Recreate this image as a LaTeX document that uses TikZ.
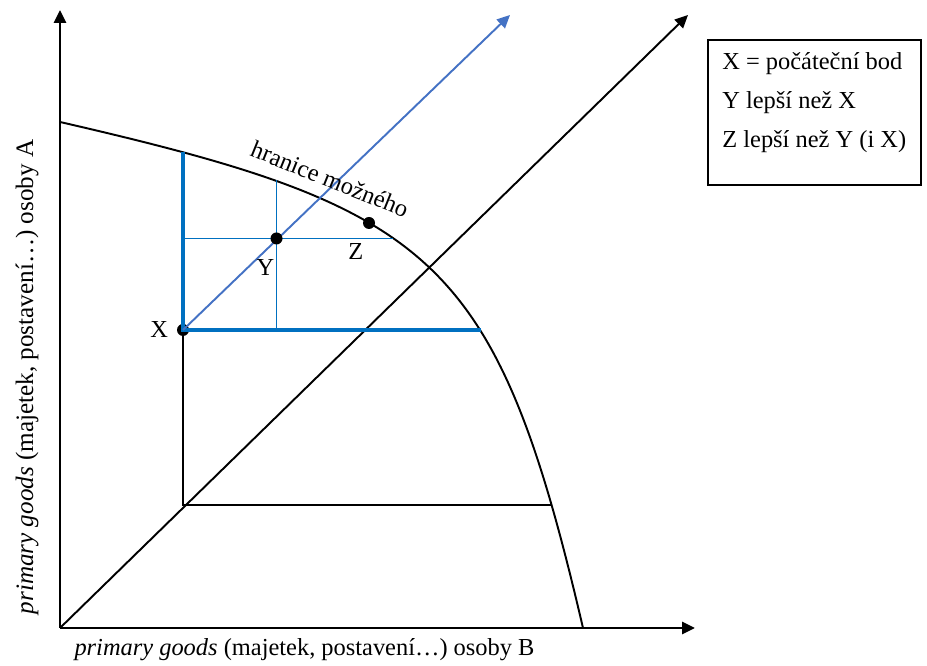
\documentclass[tikz,border=0pt]{standalone}
\usepackage{fontspec}
\setmainfont{Liberation Serif}
\usetikzlibrary{arrows.meta,positioning}
\definecolor{bline}{RGB}{0,112,192}
\definecolor{barrow}{RGB}{68,114,196}

\begin{document}
\begin{tikzpicture}[
    font=\fontsize{13.9}{22.1}\selectfont,
    tip/.style={-{Triangle[length=0.26cm,width=0.24cm]}},
    axis/.style={tip, line width=1.7pt},
    guide/.style={line width=1.1pt},
    bthick/.style={bline, line width=2.4pt},
    bthin/.style={bline, line width=0.85pt},
    dot/.style={circle, fill=black, inner sep=0pt, minimum size=0.24cm},
    legbox/.style={draw, line width=1.1pt, minimum width=4.26cm,
                   minimum height=2.9cm, anchor=north west}]

    \useasboundingbox (-1.2,-0.76) rectangle (17.34,12.56);

    % axes
    \coordinate (O)    at (0,0);
    \coordinate (xend) at (12.7,0);
    \coordinate (yend) at (0,12.36);
    \coordinate (dend) at (12.56,12.26);
    \coordinate (bend) at (9.0,12.26);

    % points on the frontier
    \coordinate (fs) at (0,10.12);
    \coordinate (ft) at (10.46,0);
    \coordinate (fa) at (2.46,9.52);
    \coordinate (fc) at (4.33,8.95);
    \coordinate (fd) at (6.65,7.79);
    \coordinate (fb) at (8.41,5.96);
    \coordinate (fe) at (9.84,2.46);
    \coordinate (C)  at (2.46,2.46);

    \coordinate (pY) at (4.33,7.79);
    \coordinate (pZ) at (6.18,8.10);
    \node[dot] (X) at (2.46,5.96) {};

    % frontier
    \draw[guide] (fs) .. controls (7.47,8.40) and (8.72,7.47) .. (ft);

    \draw[guide, tip] (O) -- (dend);
    \draw[guide] (X) -- (C) -- (fe);

    % improvement region
    \draw[bthin] (fc) -- (pY |- X);
    \draw[bthin] (pY -| X) -- (fd);
    \draw[bthick] (fa) -- (X.center) -- (fb);
    \draw[barrow, guide, tip] (X.center) -- (bend);

    \draw[axis] (O) -- (xend);
    \draw[axis] (O) -- (yend);

    \node[dot] (Y) at (pY) {};
    \node[dot] (Z) at (pZ) {};

    % labels
    \node[left=0.05cm of X] (xl) {X};
    \node[below left=0.2cm and -0.17cm of Y] (yl) {Y};
    \node[below left=0.2cm and -0.1cm of Z] (zl) {Z};
    \node[rotate=-22] (flbl) at (5.4,8.98) {hranice možného};

    \node (xlbl) at (4.89,-0.44) {\textit{primary goods} (majetek, postavení…) osoby B};
    \node[rotate=90, font=\fontsize{14.3}{17}\selectfont] (ylbl) at (-0.66,5.02)
      {\textit{primary goods} (majetek, postavení…) osoby A};

    % legend
    \node[legbox] (legend) at (12.94,11.78) {};
    \node[anchor=north west, align=left, inner sep=0pt] (legtxt)
      at ([shift={(0.3,-0.26)}]legend.north west)
      {X = počáteční bod\\Y lepší než X\\Z lepší než Y (i X)};
\end{tikzpicture}
\end{document}
